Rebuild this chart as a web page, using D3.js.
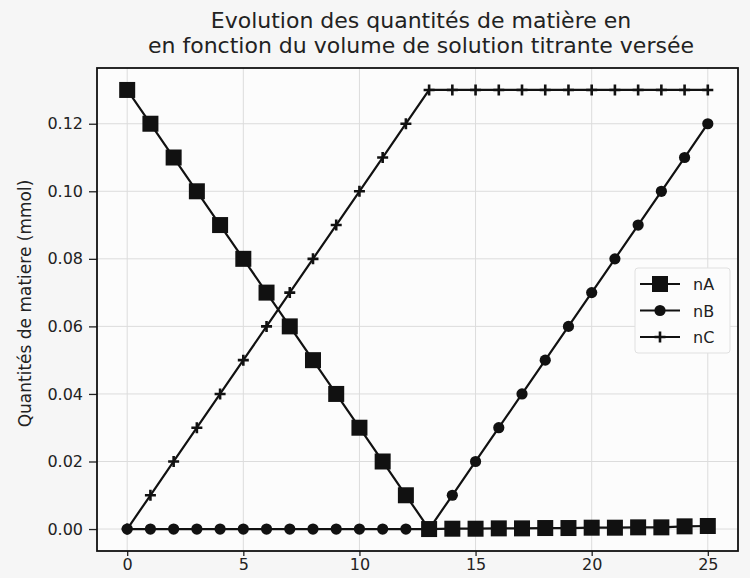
<!DOCTYPE html>
<html>
<head>
<meta charset="utf-8">
<title>Evolution des quantités de matière</title>
<script src="https://d3js.org/d3.v7.min.js"></script>
<style>
  body { margin: 0; background: #f6f6f6; }
  svg { display: block; font-family: "DejaVu Sans", sans-serif; }
</style>
</head>
<body>
<div id="chart"></div>
<script>
// volume versé (mL)
var volumes = d3.range(0, 26);
var nA = [0.13, 0.12, 0.11, 0.10, 0.09, 0.08, 0.07, 0.06, 0.05, 0.04, 0.03, 0.02, 0.01,
          0.0, 0.0001, 0.0001, 0.0002, 0.0002, 0.0003, 0.0003, 0.0004, 0.0004, 0.0005, 0.0005, 0.0008, 0.0009];
var nB = [0, 0, 0, 0, 0, 0, 0, 0, 0, 0, 0, 0, 0,
          0.0, 0.01, 0.02, 0.03, 0.04, 0.05, 0.06, 0.07, 0.08, 0.09, 0.10, 0.11, 0.12];
var nC = [0, 0.01, 0.02, 0.03, 0.04, 0.05, 0.06, 0.07, 0.08, 0.09, 0.10, 0.11, 0.12,
          0.13, 0.13, 0.13, 0.13, 0.13, 0.13, 0.13, 0.13, 0.13, 0.13, 0.13, 0.13, 0.13];
var xTicks = [0, 5, 10, 15, 20, 25];
var yTicks = [0, 0.02, 0.04, 0.06, 0.08, 0.10, 0.12];
var seriesNames = ["nA", "nB", "nC"];

const width = 750, height = 578;
const margin = { top: 68, right: 12, bottom: 27, left: 97 };

var svg = d3.select("#chart").append("svg")
  .attr("width", width)
  .attr("height", height);

var x = d3.scaleLinear().domain([-1.3, 26.3]).range([margin.left, width - margin.right]);
var y = d3.scaleLinear().domain([-0.0065, 0.1365]).range([height - margin.bottom, margin.top]);

// plot background
svg.append("rect")
  .attr("x", x.range()[0]).attr("y", y.range()[1])
  .attr("width", x.range()[1] - x.range()[0])
  .attr("height", y.range()[0] - y.range()[1])
  .attr("fill", "#fcfcfc");

// grid
svg.append("g").selectAll("line").data(xTicks).enter().append("line")
  .attr("x1", d => x(d)).attr("x2", d => x(d))
  .attr("y1", y.range()[1]).attr("y2", y.range()[0])
  .attr("stroke", "#dcdcdc").attr("stroke-width", 1);
svg.append("g").selectAll("line").data(yTicks).enter().append("line")
  .attr("y1", d => y(d)).attr("y2", d => y(d))
  .attr("x1", x.range()[0]).attr("x2", x.range()[1])
  .attr("stroke", "#dcdcdc").attr("stroke-width", 1);

// axes
var xAxis = svg.append("g")
  .attr("transform", `translate(0, ${y.range()[0]})`)
  .call(d3.axisBottom(x).tickValues(xTicks).tickSize(5).tickPadding(3).tickFormat(d3.format("d")));
var yAxis = svg.append("g")
  .attr("transform", `translate(${x.range()[0]}, 0)`)
  .call(d3.axisLeft(y).tickValues(yTicks).tickSize(8).tickPadding(6).tickFormat(d3.format(".2f")));
[xAxis, yAxis].forEach(function(a) {
  a.select(".domain").remove();
  a.selectAll("text").attr("font-size", 16).attr("fill", "#222").attr("font-family", "DejaVu Sans, sans-serif");
  a.selectAll("line").attr("stroke", "#222").attr("stroke-width", 1.3);
});

// frame
svg.append("rect")
  .attr("x", x.range()[0]).attr("y", y.range()[1])
  .attr("width", x.range()[1] - x.range()[0])
  .attr("height", y.range()[0] - y.range()[1])
  .attr("fill", "none").attr("stroke", "#111").attr("stroke-width", 1.8);

var line = d3.line().x((d, i) => x(volumes[i])).y(d => y(d));

function drawMarker(g, type, cx, cy) {
  if (type === "nA") {
    g.append("rect").attr("x", cx - 8).attr("y", cy - 8).attr("width", 16).attr("height", 16).attr("fill", "#111");
  } else if (type === "nB") {
    g.append("circle").attr("cx", cx).attr("cy", cy).attr("r", 5.6).attr("fill", "#111");
  } else {
    g.append("path").attr("d", `M${cx - 5.5},${cy}H${cx + 5.5}M${cx},${cy - 5.5}V${cy + 5.5}`)
      .attr("stroke", "#111").attr("stroke-width", 2.6);
  }
}

var allData = { nA: nA, nB: nB, nC: nC };
// draw in reverse so nA sits on top like the original
seriesNames.slice().reverse().forEach(function(name) {
  var vals = allData[name];
  var g = svg.append("g");
  g.append("path").datum(vals)
    .attr("d", line).attr("fill", "none").attr("stroke", "#111").attr("stroke-width", 2.2);
  vals.forEach(function(v, i) { drawMarker(g, name, x(volumes[i]), y(v)); });
});

// legend
var lg = svg.append("g").attr("transform", "translate(635, 268)");
lg.append("rect").attr("width", 95).attr("height", 85).attr("rx", 3)
  .attr("fill", "#fcfcfc").attr("stroke", "#e0e0e0");
seriesNames.forEach(function(name, i) {
  var yy = 16 + i * 26.5;
  var gi = lg.append("g");
  gi.append("line").attr("x1", 5).attr("x2", 45).attr("y1", yy).attr("y2", yy)
    .attr("stroke", "#111").attr("stroke-width", 2.2);
  drawMarker(gi, name, 25, yy);
  gi.append("text").attr("x", 58).attr("y", yy + 6).attr("font-size", 16).attr("fill", "#222").text(name);
});

// title
svg.append("text").attr("x", 421).attr("y", 28).attr("text-anchor", "middle")
  .attr("font-size", 22).attr("fill", "#222").text("Evolution des quantités de matière en");
svg.append("text").attr("x", 421).attr("y", 53).attr("text-anchor", "middle")
  .attr("font-size", 22).attr("fill", "#222").text("en fonction du volume de solution titrante versée");

// y label
svg.append("text").attr("transform", `translate(31, ${(y.range()[0] + y.range()[1]) / 2 - 6}) rotate(-90)`)
  .attr("text-anchor", "middle").attr("font-size", 17).attr("fill", "#222")
  .text("Quantités de matiere (mmol)");
</script>
</body>
</html>
